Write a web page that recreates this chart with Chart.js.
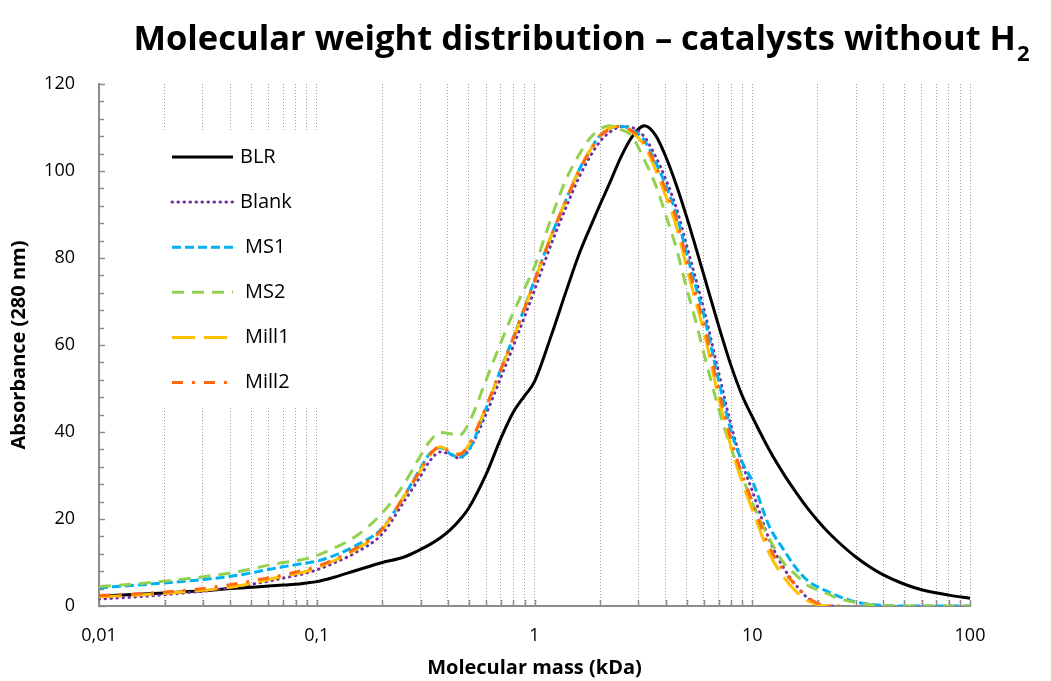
<!DOCTYPE html>
<html>
<head>
<meta charset="utf-8">
<script src="https://cdn.jsdelivr.net/npm/chart.js@4.4.1/dist/chart.umd.min.js"></script>
<style>
html,body{margin:0;padding:0;background:#fff;}
canvas{display:block;}
</style>
</head>
<body>
<canvas id="c" width="1051" height="681"></canvas>
<script>
// ---------- texts ----------
const chartTitle = 'Molecular weight distribution \u2013 catalysts without H';
const chartTitleSub = '2';
const xAxisTitle = 'Molecular mass (kDa)';
const yAxisTitle = 'Absorbance (280 nm)';
const seriesNames = ['BLR', 'Blank', 'MS1', 'MS2', 'Mill1', 'Mill2'];

// ---------- data ----------
const mass = [0.01, 0.015, 0.02, 0.03, 0.04, 0.05, 0.06, 0.07, 0.08, 0.09,
  0.1, 0.12, 0.15, 0.2, 0.25, 0.3, 0.33, 0.37, 0.41, 0.45,
  0.5, 0.6, 0.7, 0.8, 0.9, 1, 1.2, 1.4, 1.6, 1.8,
  2, 2.2, 2.5, 2.8, 3.2, 3.6, 4, 4.5, 5, 5.5,
  6, 7, 8, 9, 10, 12, 14, 16, 18, 20,
  22, 25, 30, 35, 40, 50, 60, 80, 100];

const BLR = [2.3, 2.7, 3.0, 3.5, 4.0, 4.3, 4.6, 4.8, 5.0, 5.3,
  5.6, 6.6, 8.1, 10.0, 11.2, 13.0, 14.1, 15.7, 17.5, 19.6,
  22.6, 30.3, 38.5, 44.6, 48.3, 51.6, 62.5, 72.5, 80.8, 87.0,
  92.3, 96.9, 103.3, 107.8, 110.4, 108.2, 103.4, 96.5, 89.4, 82.5,
  76.0, 64.5, 55.2, 48.3, 43.5, 35.8, 30.2, 25.9, 22.4, 19.6,
  17.3, 14.6, 11.2, 8.85, 7.15, 5.0, 3.75, 2.5, 1.8];

const Blank = [1.6, 2.1, 2.6, 3.4, 4.2, 5.0, 5.7, 6.4, 7.0, 7.6,
  8.3, 9.9, 12.2, 16.6, 23.8, 29.9, 33.3, 35.4, 34.9, 34.0,
  35.9, 44.2, 52.5, 59.8, 66.5, 72.6, 83.5, 91.8, 98.5, 103.3,
  106.8, 108.8, 110.2, 110.0, 107.8, 103.3, 98.2, 91.2, 82.8, 75.2,
  68.2, 53.8, 41.5, 32.8, 26.5, 15.2, 8.6, 4.6, 1.8, 0.5,
  0, 0, null, null, null, null, null, null, null];

const MS1 = [4.2, 4.8, 5.3, 6.1, 6.8, 7.6, 8.4, 9.0, 9.5, 9.9,
  10.3, 11.6, 13.8, 17.9, 25.0, 31.7, 35.0, 36.4, 35.0, 34.2,
  35.9, 45.5, 54.4, 61.8, 68.6, 74.9, 85.4, 93.5, 100.2, 104.8,
  108.2, 109.8, 110.3, 109.5, 107.0, 102.0, 96.8, 89.8, 81.0, 73.5,
  66.8, 52.0, 40.2, 33.0, 28.8, 18.2, 12.8, 8.5, 5.8, 4.4,
  3.4, 2.2, 0.9, 0.4, 0.15, 0, 0, 0, 0];

const MS2 = [4.5, 5.1, 5.7, 6.7, 7.6, 8.5, 9.4, 10.0, 10.4, 10.9,
  11.6, 13.3, 15.9, 21.4, 27.8, 34.6, 37.8, 39.9, 39.6, 39.2,
  42.1, 52.0, 60.5, 67.5, 73.0, 78.0, 89.5, 98.2, 103.7, 107.6,
  109.6, 110.4, 109.5, 108.0, 102.5, 96.8, 90.0, 81.9, 73.0, 65.5,
  58.0, 45.5, 36.2, 29.7, 23.8, 15.4, 9.8, 7.0, 4.7, 3.7,
  2.9, 1.7, 0.8, 0.3, 0.1, 0, 0, 0, 0];

const Mill1 = [2.1, 2.5, 2.9, 3.6, 4.3, 5.2, 6.1, 6.8, 7.4, 8.0,
  8.8, 10.4, 12.9, 17.6, 25.0, 31.2, 34.6, 36.6, 35.6, 35.0,
  37.0, 45.8, 54.2, 61.6, 68.4, 74.6, 85.5, 93.5, 100.2, 104.8,
  108.2, 109.8, 110.3, 109.0, 105.8, 100.2, 94.3, 87.0, 77.8, 70.0,
  63.0, 48.0, 36.5, 28.4, 22.2, 12.0, 6.5, 3.2, 1.2, 0.3,
  0, 0, null, null, null, null, null, null, null];

const Mill2 = [2.4, 2.8, 3.2, 4.0, 4.9, 5.7, 6.5, 7.1, 7.8, 8.4,
  9.1, 10.7, 13.2, 17.7, 25.0, 31.3, 34.8, 36.6, 35.4, 34.8,
  37.1, 45.9, 54.3, 61.6, 68.4, 74.7, 85.3, 93.3, 100.0, 104.5,
  108.0, 109.5, 110.3, 109.2, 106.5, 101.3, 95.7, 88.7, 79.5, 71.7,
  64.8, 49.7, 38.1, 30.2, 24.0, 13.5, 8.0, 4.5, 2.0, 0.6,
  0, 0, null, null, null, null, null, null, null];

// ---------- ticks ----------
const xTickValues = [0.01, 0.02, 0.03, 0.04, 0.05, 0.06, 0.07, 0.08, 0.09,
  0.1, 0.2, 0.3, 0.4, 0.5, 0.6, 0.7, 0.8, 0.9,
  1, 2, 3, 4, 5, 6, 7, 8, 9,
  10, 20, 30, 40, 50, 60, 70, 80, 90, 100];
const xMajorValues = [0.01, 0.1, 1, 10, 100];
const xMajorLabels = ['0,01', '0,1', '1', '10', '100'];
const yLabelValues = [0, 20, 40, 60, 80, 100, 120];

// ---------- styles ----------
const FONT = '"Open Sans", "Liberation Sans", sans-serif';
const styles = [
  {color: '#000000', dash: [], cap: 'butt'},
  {color: '#7030A0', dash: [0.5, 5.5], cap: 'round'},
  {color: '#00B0F0', dash: [9, 4], cap: 'butt'},
  {color: '#92D050', dash: [12, 8], cap: 'butt'},
  {color: '#FFC000', dash: [23, 9], cap: 'butt'},
  {color: '#FF6A10', dash: [11, 9, 3, 9], cap: 'butt'}
];
const seriesValues = [BLR, Blank, MS1, MS2, Mill1, Mill2];

const datasets = seriesValues.map((vals, i) => ({
  label: seriesNames[i],
  data: vals.map((v, j) => ({x: mass[j], y: v})),
  borderColor: styles[i].color,
  backgroundColor: styles[i].color,
  borderWidth: 3,
  borderDash: styles[i].dash,
  borderCapStyle: styles[i].cap,
  pointRadius: 0,
  pointHoverRadius: 0,
  fill: false,
  tension: 0.4,
  cubicInterpolationMode: 'monotone',
  spanGaps: false,
  order: seriesValues.length - i
}));

// ---------- plugins ----------
const inwardTicks = {
  id: 'inwardTicks',
  beforeDatasetsDraw(chart) {
    const {ctx, chartArea: a, scales: {x, y}} = chart;
    ctx.save();
    ctx.strokeStyle = '#8c8c8c';
    ctx.lineWidth = 1.5;
    ctx.beginPath();
    x.ticks.forEach(t => {
      const px = Math.round(x.getPixelForValue(t.value)) + 0.5;
      ctx.moveTo(px, a.bottom);
      ctx.lineTo(px, a.bottom - 6);
    });
    y.ticks.forEach(t => {
      const py = Math.round(y.getPixelForValue(t.value)) + 0.5;
      ctx.moveTo(a.left, py);
      ctx.lineTo(a.left + (yLabelValues.includes(t.value) ? 6 : 5), py);
    });
    ctx.stroke();
    ctx.restore();
  }
};

const insideLegend = {
  id: 'insideLegend',
  beforeDatasetsDraw(chart) {
    const {ctx} = chart;
    ctx.save();
    ctx.fillStyle = '#ffffff';
    ctx.fillRect(118, 132, 234, 274);
    ctx.restore();
  },
  afterDatasetsDraw(chart) {
    const {ctx} = chart;
    ctx.save();
    chart.data.datasets.forEach((ds, i) => {
      const yy = 157 + i * 45.1;
      ctx.strokeStyle = ds.borderColor;
      ctx.lineWidth = ds.borderWidth;
      ctx.lineCap = ds.borderCapStyle;
      ctx.setLineDash(ds.borderDash);
      ctx.beginPath();
      ctx.moveTo(172, yy);
      ctx.lineTo(233, yy);
      ctx.stroke();
      ctx.setLineDash([]);
      ctx.fillStyle = '#000';
      ctx.font = '20px ' + FONT;
      ctx.textBaseline = 'middle';
      ctx.textAlign = 'left';
      ctx.fillText(ds.label, i < 2 ? 240 : 245, yy);
    });
    ctx.restore();
  }
};

const subTitle = {
  id: 'subTitle',
  afterDraw(chart) {
    const {ctx} = chart;
    ctx.save();
    ctx.fillStyle = '#000';
    ctx.textBaseline = 'alphabetic';
    ctx.textAlign = 'left';
    const mainFont = 'bold 34.5px ' + FONT;
    const subFont = 'bold 22px ' + FONT;
    ctx.font = mainFont;
    const w1 = ctx.measureText(chartTitle).width;
    ctx.font = subFont;
    const w2 = ctx.measureText(chartTitleSub).width;
    const start = 581.5 - (w1 + 1 + w2) / 2;
    ctx.font = mainFont;
    ctx.fillText(chartTitle, start, 50);
    ctx.font = subFont;
    ctx.fillText(chartTitleSub, start + w1 + 1, 61);
    ctx.restore();
  }
};

// ---------- chart ----------
Chart.defaults.font.family = FONT;
Chart.defaults.color = '#000';

new Chart(document.getElementById('c'), {
  type: 'line',
  data: {datasets},
  options: {
    responsive: false,
    animation: false,
    devicePixelRatio: 1,
    layout: {padding: {top: 84, right: 81, bottom: 0, left: 0}},
    plugins: {
      legend: {display: false},
      title: {display: false},
      tooltip: {enabled: false}
    },
    scales: {
      x: {
        type: 'logarithmic',
        min: 0.01,
        max: 100,
        afterBuildTicks: s => { s.ticks = xTickValues.map(v => ({value: v, major: xMajorValues.includes(v)})); },
        afterFit: s => { s.height = 75; },
        ticks: {
          autoSkip: false,
          maxRotation: 0,
          padding: 19,
          font: {size: 18},
          color: '#000',
          callback: (value) => {
            const k = xMajorValues.indexOf(value);
            return k >= 0 ? xMajorLabels[k] : '';
          }
        },
        grid: {
          display: true,
          drawOnChartArea: true,
          drawTicks: false,
          color: '#a0a0a0',
          lineWidth: 1
        },
        border: {display: true, color: '#8c8c8c', width: 2, dash: [1, 2]},
        title: {
          display: true,
          text: xAxisTitle,
          font: {size: 20, weight: 'bold'},
          color: '#000',
          padding: {top: 0, bottom: 1}
        }
      },
      y: {
        type: 'linear',
        min: 0,
        max: 120,
        afterFit: s => { s.width = 99; },
        ticks: {
          stepSize: 4,
          autoSkip: false,
          padding: 24,
          font: {size: 18},
          color: '#000',
          callback: (value) => (yLabelValues.includes(value) ? String(value) : '')
        },
        grid: {display: true, drawOnChartArea: false, drawTicks: false},
        border: {display: true, color: '#8c8c8c', width: 2},
        title: {
          display: true,
          text: yAxisTitle,
          font: {size: 20, weight: 'bold'},
          color: '#000',
          padding: {top: 7, bottom: 0}
        }
      }
    }
  },
  plugins: [inwardTicks, insideLegend, subTitle]
});
</script>
</body>
</html>
